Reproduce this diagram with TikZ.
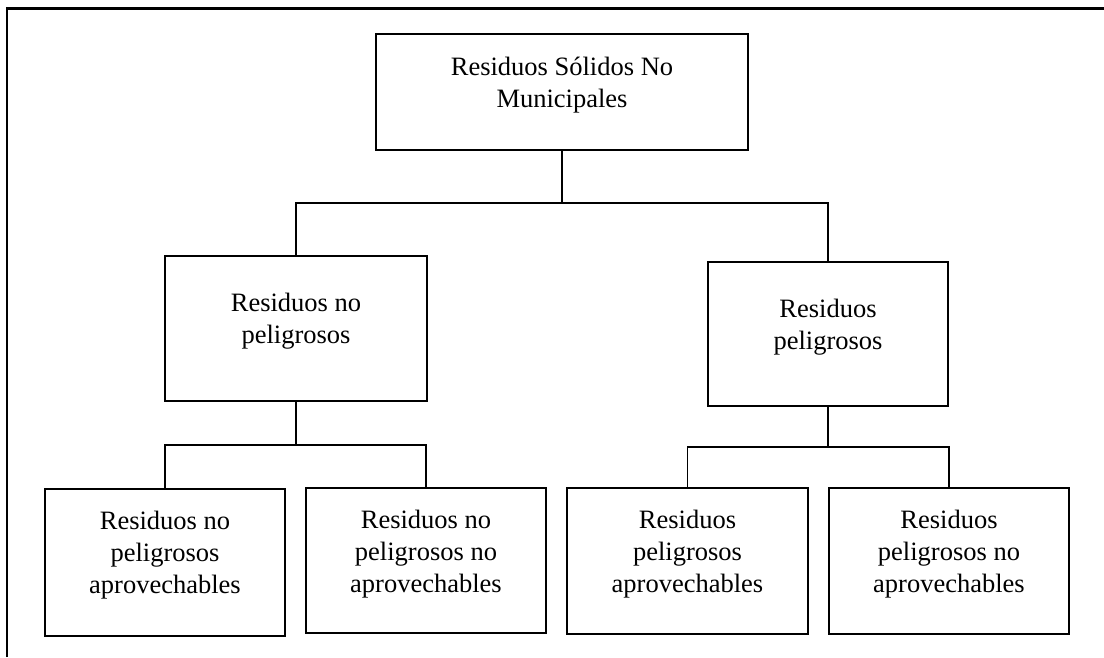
\documentclass[tikz,border=0pt]{standalone}
\usepackage{fontspec}
\setmainfont{Liberation Serif}
\begin{document}
\begin{tikzpicture}[x=1pt,y=-1pt,
  box/.style={draw=black, line width=2.3pt, rectangle, inner sep=0pt},
  % anchored at the baseline of the last line
  txt/.style={align=center, inner sep=0pt, anchor=base,
    font=\fontsize{26.5pt}{32pt}\selectfont},
  conn/.style={draw=black, line width=1.2pt},
  frame/.style={draw=black, line width=2.6pt}]
\useasboundingbox (0,0) rectangle (1104,657);

% outer frame (top and left rules only)
\draw[frame] (7,657) -- (7,8.5) -- (1104,8.5);

% level 0
\node[box, minimum width=372pt, minimum height=116pt] (top) at (562,92) {};
\node[txt] (topT) at (562,107) {Residuos Sólidos No\\Municipales};

% level 1
\node[box, minimum width=262pt, minimum height=145pt] (lmid) at (296,328.5) {};
\node[txt] (lmidT) at (296,343) {Residuos no\\peligrosos};
\node[box, minimum width=240pt, minimum height=144pt] (rmid) at (828,334) {};
\node[txt] (rmidT) at (828,349) {Residuos\\peligrosos};

% level 2
\node[box, minimum width=240pt, minimum height=147pt] (b1) at (165,562.5) {};
\node[txt] (b1T) at (165,593) {Residuos no\\peligrosos\\aprovechables};
\node[box, minimum width=240pt, minimum height=145pt] (b2) at (426,560.5) {};
\node[txt] (b2T) at (426,592) {Residuos no\\peligrosos no\\aprovechables};
\node[box, minimum width=241pt, minimum height=146pt] (b3) at (687.5,561) {};
\node[txt] (b3T) at (687.5,592) {Residuos\\peligrosos\\aprovechables};
\node[box, minimum width=240pt, minimum height=146pt] (b4) at (949,561) {};
\node[txt] (b4T) at (949,592) {Residuos\\peligrosos no\\aprovechables};

% junction points
\coordinate (j1) at (562,203);
\coordinate (j2) at (296,445);
\coordinate (j3) at (828,447);

% connectors
\draw[conn] (top.south) -- (j1);
\draw[conn] (lmid.north) |- (j1) -| (rmid.north);
\draw[conn] (lmid.south) -- (j2);
\draw[conn] (b1.north) |- (j2) -| (b2.north);
\draw[conn] (rmid.south) -- (j3);
\draw[conn] (b3.north) |- (j3) -| (b4.north);
\end{tikzpicture}
\end{document}
